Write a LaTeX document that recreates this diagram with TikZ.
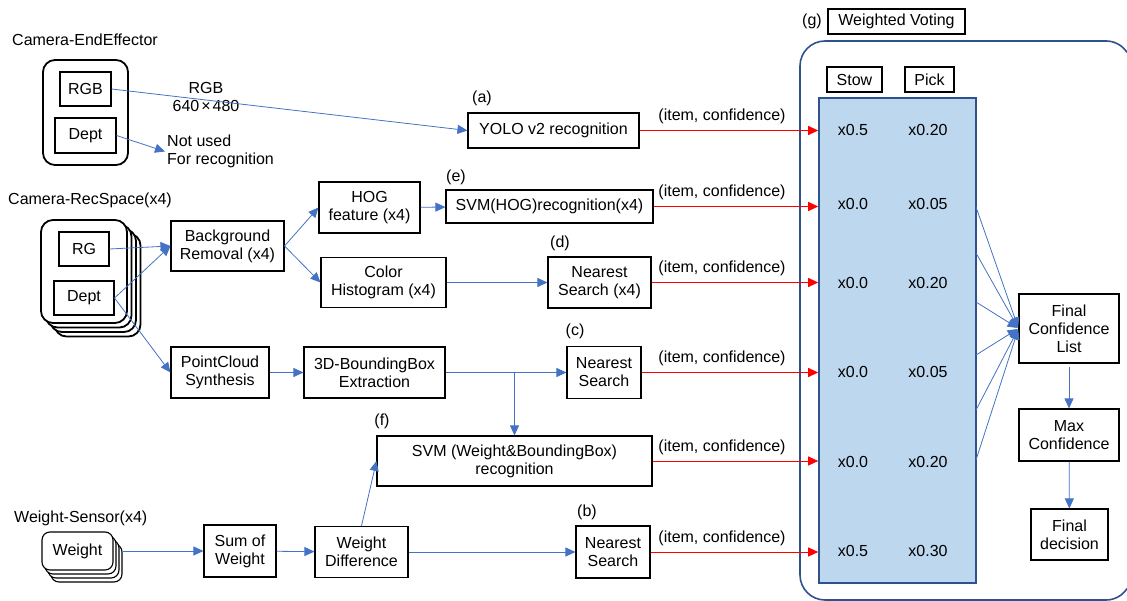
\documentclass[tikz,border=0pt]{standalone}
\usepackage{fontspec}
\setmainfont{Liberation Sans}
\usetikzlibrary{arrows.meta}

\definecolor{arrblue}{HTML}{4472C4}
\definecolor{votefill}{HTML}{BDD7EE}
\definecolor{voteedge}{HTML}{2F528F}

\tikzset{
  blk/.style={draw, line width=1.1pt, align=center, inner sep=0pt},
  lbl/.style={inner sep=0pt, align=left},
  barr/.style={draw=arrblue, line width=0.8pt, -{Triangle[length=10pt,width=9pt]}},
  rarr/.style={draw=red, line width=0.9pt, -{Triangle[length=10pt,width=9pt]}},
  cambox/.style={draw, fill=white, line width=1.8pt, rounded corners=12pt, inner sep=0pt,
    minimum width=86pt, minimum height=103pt},
  wbox/.style={draw, fill=white, line width=1.1pt, rounded corners=8pt, inner sep=0pt,
    minimum width=71pt, minimum height=38pt}
}

\begin{document}
\begin{tikzpicture}[x=1pt, y=-1pt, every node/.style={font=\fontsize{16pt}{18pt}\selectfont}]

            \useasboundingbox (0,0) rectangle (1127,601);

            % weighted voting panel (its right side runs off the picture)
            \draw[voteedge, line width=1.6pt] (1127,52.4) arc[start angle=32.9, end angle=90, radius=25pt]
              -- (825,41) arc[start angle=90, end angle=180, radius=25pt]
              -- (800,575) arc[start angle=180, end angle=270, radius=25pt]
              -- (1106,600) arc[start angle=270, end angle=327.1, radius=25pt];
            \node (vote) at (897.5,340.5) [draw=voteedge, fill=votefill, line width=1.6pt, inner sep=0pt,
              minimum width=157pt, minimum height=485pt] {};
            \node (tagG) at (812,21) {(g)};
            \node (wv) at (896.5,21.5) [blk, minimum width=137pt, minimum height=25pt] {Weighted Voting};
            \node (stow) at (854.5,79.5) [blk, minimum width=55pt, minimum height=25pt] {Stow};
            \node (pick) at (929.5,79.5) [blk, minimum width=49pt, minimum height=25pt] {Pick};

            \foreach \i/\y/\s/\p in {1/130/0.5/0.20, 2/204/0.0/0.05, 3/283/0.0/0.20,
                                      4/372/0.0/0.05, 5/462/0.0/0.20, 6/551/0.5/0.30} {
              \node (st\i) at (853,\y) {x\s};
              \node (pk\i) at (928,\y) {x\p};
            }

            \node (fcl) at (1069,328.5) [blk, minimum width=100pt, minimum height=69pt] {Final\\Confidence\\List};
            \node (maxc) at (1069,435) [blk, minimum width=100pt, minimum height=52pt] {Max\\Confidence};
            \node (fdec) at (1069.5,534.5) [blk, minimum width=77pt, minimum height=51pt] {Final\\decision};

            % camera on the end effector
            \node (camEElab) at (12,40) [lbl, anchor=west] {Camera-EndEffector};
            \node (camEE) at (85.5,112.5) [cambox, minimum width=85pt, minimum height=105pt] {};
            \node (rgbE) at (85.5,89) [blk, minimum width=51pt, minimum height=34pt] {RGB};
            \node (deptE) at (85.5,135.5) [blk, minimum width=61pt, minimum height=35pt] {Dept};
            \node (rgblab) at (206,97) [lbl, align=center] {RGB\\640\kern2pt×\kern2pt480};
            \node (notused) at (165,151.5) [lbl, anchor=west, inner sep=2pt] {Not used\\For recognition};

            % cameras of the recognition space
            \node (camRSlab) at (8,200) [lbl, anchor=west] {Camera-RecSpace(x4)};
            \foreach \k in {3,2,1}
              \node (camRS\k) at (84+4.5*\k,271.5+4.5*\k) [cambox] {};
            \node (camRS) at (84,271.5) [cambox] {};
            \node (rg) at (84,249) [blk, minimum width=50pt, minimum height=34pt] {RG};
            \node (deptR) at (84,298) [blk, minimum width=60pt, minimum height=34pt] {Dept};

            % weight sensors
            \node (wlab) at (14,518) [lbl, anchor=west] {Weight-Sensor(x4)};
            \foreach \k in {3,2,1}
              \node (wstk\k) at (77.5+3*\k,551+4*\k) [wbox] {};
            \node (weight) at (77.5,551) [wbox] {Weight};

            % processing blocks
            \node (yolo) at (553.5,130.5) [blk, minimum width=171pt, minimum height=35pt] {YOLO v2 recognition};
            \node (bgr) at (227.5,246) [blk, minimum width=113pt, minimum height=50pt] {Background\\Removal (x4)};
            \node (pcs) at (220,372.5) [blk, minimum width=98pt, minimum height=51pt] {PointCloud\\Synthesis};
            \node (hog) at (369.5,207.5) [blk, minimum width=101pt, minimum height=51pt] {HOG\\feature (x4)};
            \node (colh) at (383.5,282.5) [blk, minimum width=125pt, minimum height=50pt] {Color\\Histogram (x4)};
            \node (svmhog) at (549.5,206.5) [blk, minimum width=207pt, minimum height=33pt] {SVM(HOG)recognition(x4)};
            \node (ns4) at (599.5,282.5) [blk, minimum width=103pt, minimum height=51pt] {Nearest\\Search (x4)};
            \node (bbx) at (374.5,372.5) [blk, minimum width=141pt, minimum height=51pt] {3D-BoundingBox\\Extraction};
            \node (nsc) at (604,372.5) [blk, minimum width=74pt, minimum height=52pt] {Nearest\\Search};
            \node (svmwb) at (514.5,461) [blk, minimum width=275pt, minimum height=50pt] {SVM (Weight\&BoundingBox)\\recognition};
            \node (sumw) at (240,551) [blk, minimum width=72pt, minimum height=52pt] {Sum of\\Weight};
            \node (wdiff) at (361.5,552) [blk, minimum width=93pt, minimum height=51pt] {Weight\\Difference};
            \node (nsb) at (613,552) [blk, minimum width=74pt, minimum height=52pt] {Nearest\\Search};

            \node (tagA) at (482,98) {(a)};
            \node (tagE) at (456,177) {(e)};
            \node (tagD) at (560,243) {(d)};
            \node (tagC) at (575,331) {(c)};
            \node (tagF) at (382,421) {(f)};
            \node (tagB) at (587,512) {(b)};

            % connectors
            \draw[barr] (rgbE.east) -- (yolo.west);
            \draw[barr] (deptE.east) -- (notused.west);
            \draw[barr] (rg.east) -- (bgr.west);
            \draw[barr] (deptR.east) -- (bgr.west);
            \draw[barr] (deptR.east) -- (pcs.west);
            \draw[barr] (bgr.east) -- (hog.west);
            \draw[barr] (bgr.east) -- (colh.west);
            \draw[barr] (hog) -- (svmhog);
            \draw[barr] (colh) -- (ns4);
            \draw[barr] (pcs) -- (bbx);
            \draw[barr] (bbx) -- (nsc);
            \draw[barr] (bbx.east -| svmwb.north) -- (svmwb.north);
            \draw[barr] (wdiff.north) -- (svmwb.west);
            \draw[barr] (weight.east -| wstk3.east) -- (sumw);
            \draw[barr] (sumw) -- (wdiff);
            \draw[barr] (wdiff) -- (nsb);

            \coordinate (lx) at (722,0);
            \foreach \n in {yolo,svmhog,ns4,nsc,svmwb,nsb} {
              \draw[rarr] (\n.east) -- (\n.east -| vote.west);
              \node (conf\n) [inner sep=0pt, above=6pt] at (\n.east -| lx) {(item, confidence)};
            }

            \foreach \y [count=\i] in {207,253,302,355,410,460} {
              \coordinate (fan\i) at (976,\y);
              \draw[barr, shorten >=1pt] (fan\i) -- (fcl.west);
            }
            \draw[barr, shorten <=3pt] (fcl) -- (maxc);
            \draw[barr] (maxc) -- (fdec);
        \end{tikzpicture}
\end{document}
